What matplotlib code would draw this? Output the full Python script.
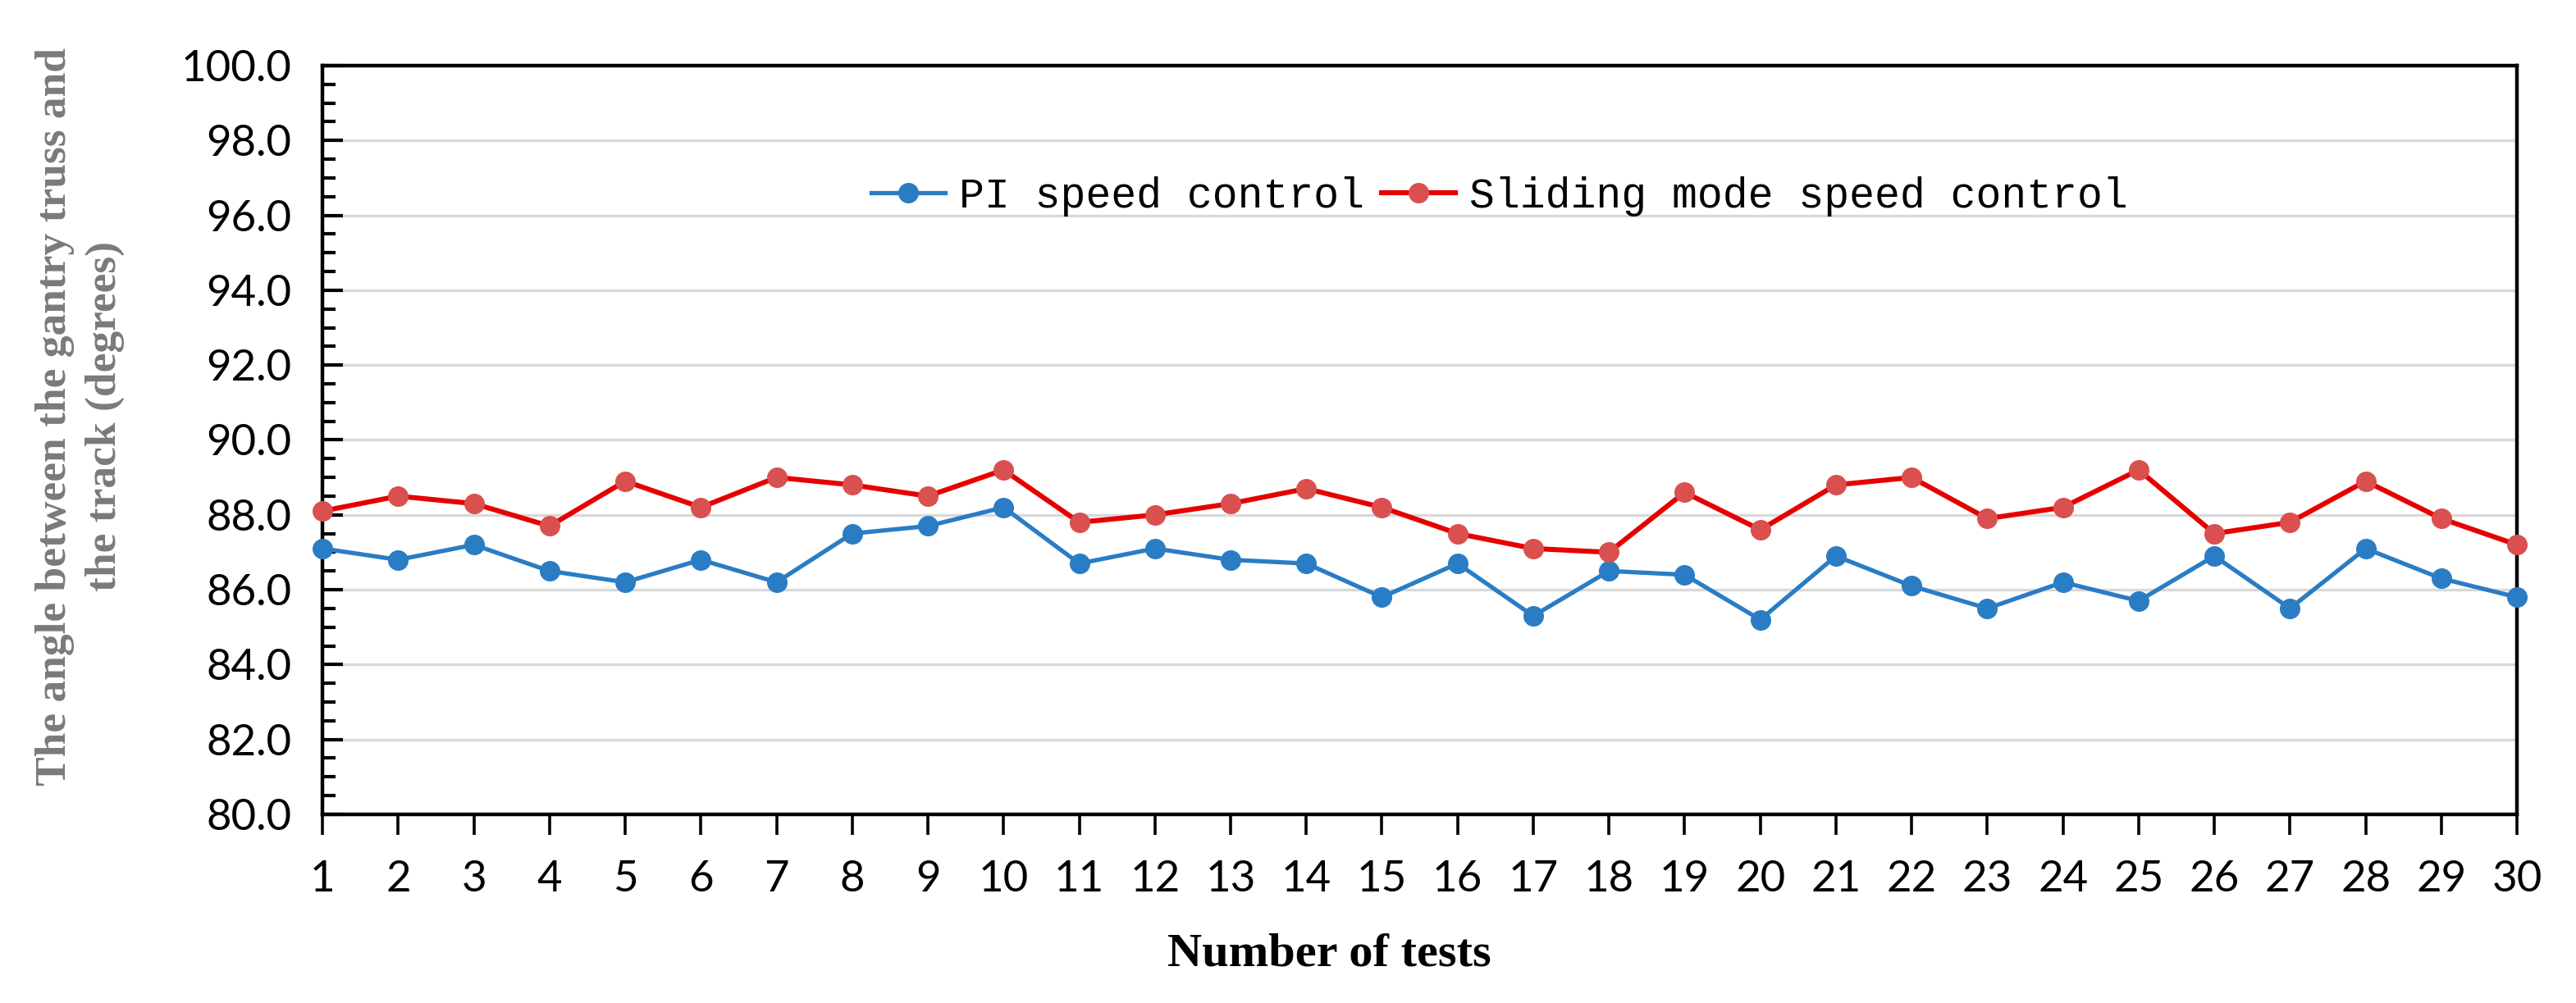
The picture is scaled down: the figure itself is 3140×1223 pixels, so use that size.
import matplotlib.pyplot as plt
from matplotlib.ticker import MultipleLocator, FormatStrFormatter

tests = list(range(1, 31))
pi_speed = [87.1, 86.8, 87.2, 86.5, 86.2, 86.8, 86.2, 87.5, 87.7, 88.2,
            86.7, 87.1, 86.8, 86.7, 85.8, 86.7, 85.3, 86.5, 86.4, 85.2,
            86.9, 86.1, 85.5, 86.2, 85.7, 86.9, 85.5, 87.1, 86.3, 85.8]
sliding_speed = [88.1, 88.5, 88.3, 87.7, 88.9, 88.2, 89.0, 88.8, 88.5, 89.2,
                 87.8, 88.0, 88.3, 88.7, 88.2, 87.5, 87.1, 87.0, 88.6, 87.6,
                 88.8, 89.0, 87.9, 88.2, 89.2, 87.5, 87.8, 88.9, 87.9, 87.2]
labels = ["PI speed control", "Sliding mode speed control"]
y_ticks = [80 + 2 * i for i in range(11)]

fig = plt.figure(figsize=(31.4, 12.23), dpi=100)
ax = fig.add_axes([0.1252, 0.1881, 0.9771 - 0.1252, 0.9346 - 0.1881])

ax.plot(tests, pi_speed, color="#2a7dc4", lw=3.8, marker="o", ms=17,
        mfc="#2a7dc4", mec="#2a7dc4", label=labels[0], clip_on=False, zorder=4)
ax.plot(tests, sliding_speed, color="#e60000", lw=4.4, marker="o", ms=17,
        mfc="#d9504f", mec="#d9504f", label=labels[1], clip_on=False, zorder=5)

ax.set_xlim(1, 30)
ax.set_ylim(80, 100)
ax.set_xticks(tests)
ax.set_yticks(y_ticks)
ax.yaxis.set_minor_locator(MultipleLocator(0.5))
ax.yaxis.set_major_formatter(FormatStrFormatter("%.1f"))

ax.grid(axis="y", color="#d9d9d9", lw=2.4)
ax.set_axisbelow(True)
for s in ax.spines.values():
    s.set_linewidth(3.2)
    s.set_color("black")

ax.tick_params(axis="y", which="major", direction="in", length=18, width=3,
               pad=27, labelsize=38)
ax.tick_params(axis="y", which="minor", direction="in", length=11.5, width=3)
ax.tick_params(axis="x", which="major", direction="out", length=18, width=2.6,
               pad=22, labelsize=38)
for t in ax.get_xticklabels() + ax.get_yticklabels():
    t.set_fontfamily(["Lato", "DejaVu Sans"])

leg = ax.legend(loc="center", bbox_to_anchor=(0.5364, 0.825), ncol=2,
                frameon=False, handlelength=1.75, handletextpad=0.33,
                columnspacing=0.4, borderpad=0,
                prop={"family": "Liberation Mono", "size": 37})

fig.text(0.031, 0.585, "The angle between the gantry truss and\nthe track (degrees)",
         rotation=90, ha="center", va="center", multialignment="center",
         family="Liberation Serif", weight="bold", size=38.5, color="#7a7a7a",
         linespacing=1.35)
fig.text(0.516, 0.0368, "Number of tests", ha="center", va="baseline",
         family="Liberation Serif", weight="bold", size=42, color="black")

fig.savefig("out.png", dpi=100)
